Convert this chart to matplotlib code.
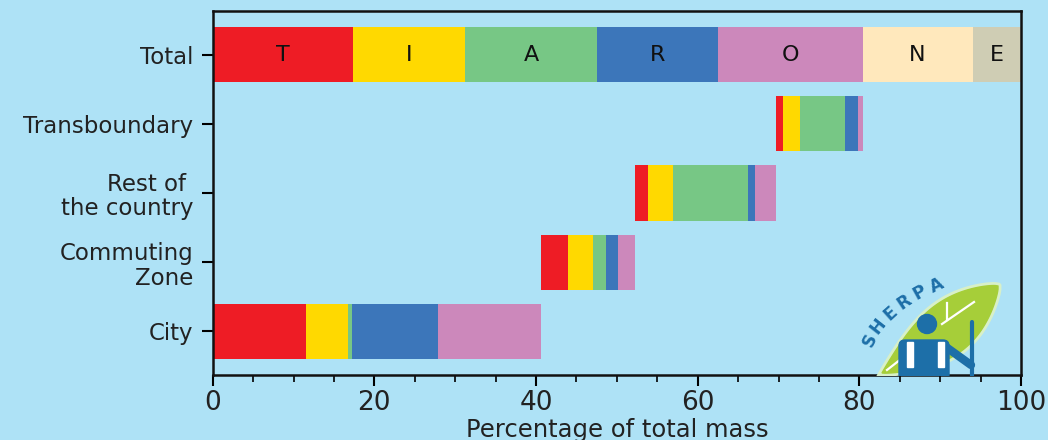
import matplotlib.pyplot as plt
import numpy as np
from matplotlib.patches import Polygon, Circle, Rectangle, FancyBboxPatch

# sources (bottom to top in the chart, drawn as a waterfall)
sources = ['City', 'Commuting\nZone', 'Rest of \nthe country', 'Transboundary']
letters = ['T', 'I', 'A', 'R', 'O']
city = [11.6, 5.1, 0.5, 10.7, 12.7]
commuting = [3.4, 3.1, 1.6, 1.5, 2.1]
rest = [1.6, 3.1, 9.2, 0.9, 2.6]
transboundary = [0.8, 2.2, 5.5, 1.6, 0.6]

total_letters = ['T', 'I', 'A', 'R', 'O', 'N', 'E']
total = [17.4, 13.8, 16.4, 14.9, 17.9, 13.6, 6.0]

colors = ['#EE1C25', '#FFD900', '#77C785', '#3C76BA', '#CC88BB', '#FFE8BC', '#CFCDB4']
bg = '#AEE2F6'

plt.rcParams['font.family'] = ['DejaVu Sans']

fig = plt.figure(figsize=(10.48, 4.4), dpi=100, facecolor=bg)
ax = fig.add_axes([212.7 / 1048, 65 / 440, (1021 - 212.7) / 1048, (375 - 11) / 440])
ax.set_facecolor(bg)

rows = ['Total', 'Transboundary', 'Rest of \nthe country', 'Commuting\nZone', 'City']
ypos = {name: i for i, name in enumerate(rows)}
h = 0.8

# total bar
left = 0
for val, lab, col in zip(total, total_letters, colors):
    ax.barh(ypos['Total'], val, left=left, height=h, color=col, edgecolor='none')
    ax.text(left + val / 2, ypos['Total'], lab, ha='center', va='center', fontsize=16, color='#111111')
    left += val

# waterfall of sources
start = 0
for name, vals in zip(sources, [city, commuting, rest, transboundary]):
    left = start
    for val, col in zip(vals, colors):
        ax.barh(ypos[name], val, left=left, height=h, color=col, edgecolor='none')
        left += val
    start = left

ax.set_xlim(0, 100)
ax.set_ylim(len(rows) - 1 + 0.63, -0.63)
ax.set_yticks(range(len(rows)))
ax.set_yticklabels(rows, fontsize=16.5, linespacing=1.1, color='#222222')
ax.set_xticks(np.arange(0, 101, 20))
ax.set_xticks(np.arange(0, 101, 5), minor=True)
ax.tick_params(axis='x', which='major', labelsize=19, length=8, width=1.5, direction='out',
               pad=3, labelcolor='#222222')
ax.tick_params(axis='x', which='minor', length=5, width=1.2, direction='out')
ax.tick_params(axis='y', length=8, width=1.5, direction='out', pad=6)
ax.set_xlabel('Percentage of total mass', fontsize=17.5, labelpad=1, color='#222222')
for s in ax.spines.values():
    s.set_linewidth(1.8)
    s.set_color('#111111')

# SHERPA logo (rough sketch)
lg = fig.add_axes([855 / 1048, 64 / 440, 155 / 1048, 112 / 440])
lg.set_xlim(855, 1010)
lg.set_ylim(376, 264)
lg.axis('off')
B = np.array([882.0, 373.0])
T = np.array([998.0, 286.0])
t = np.linspace(0, 1, 80)
d = T - B
n = np.array([d[1], -d[0]]) / np.hypot(*d)
w_up = 22 * np.sin(np.pi * t ** 1.2) ** 0.8
w_lo = 30 * np.sin(np.pi * t ** 1.1) ** 0.8
upper = B + np.outer(t, d) + np.outer(w_up, n)
lower = B + np.outer(t, d) - np.outer(w_lo, n)
leaf = np.vstack([upper, lower[::-1]])
lg.add_patch(Polygon(leaf, closed=True, facecolor='#D8F0C8', edgecolor='#D8F0C8', lw=5, zorder=1))
lg.add_patch(Polygon(leaf, closed=True, color='#A6CE39', zorder=1))
lg.plot([887, 910], [370, 352], color='white', lw=1.6, zorder=2)
lg.plot([942, 974], [324, 302], color='white', lw=1.6, zorder=2)
lg.plot([947, 947], [303, 320], color='white', lw=1.6, zorder=2)
blue = '#1D6FA8'
lg.add_patch(Circle((927, 324), 9.5, color=blue, zorder=3))
lg.add_patch(FancyBboxPatch((899, 340), 50, 40, boxstyle='round,pad=0,rounding_size=6',
                            color=blue, zorder=3))
lg.add_patch(Rectangle((907, 342), 6, 25, color='white', zorder=4))
lg.add_patch(Rectangle((938, 342), 6, 25, color='white', zorder=4))
lg.plot([946, 971], [347, 365], color=blue, lw=6, solid_capstyle='round', zorder=3)
lg.plot([972, 972], [322, 376], color=blue, lw=3, solid_capstyle='round', zorder=3)
logo_text = 'SHERPA'
lpos = [(870, 340), (878, 326), (890, 313), (904, 302), (920, 293), (937, 286)]
lrot = [64, 52, 42, 34, 29, 25]
for ch, (px, py), r in zip(logo_text, lpos, lrot):
    lg.text(px, py, ch, rotation=r, ha='center', va='center', fontsize=12.5,
            fontweight='bold', color=blue, zorder=5)

fig.savefig('out.png', dpi=100, facecolor=bg)
